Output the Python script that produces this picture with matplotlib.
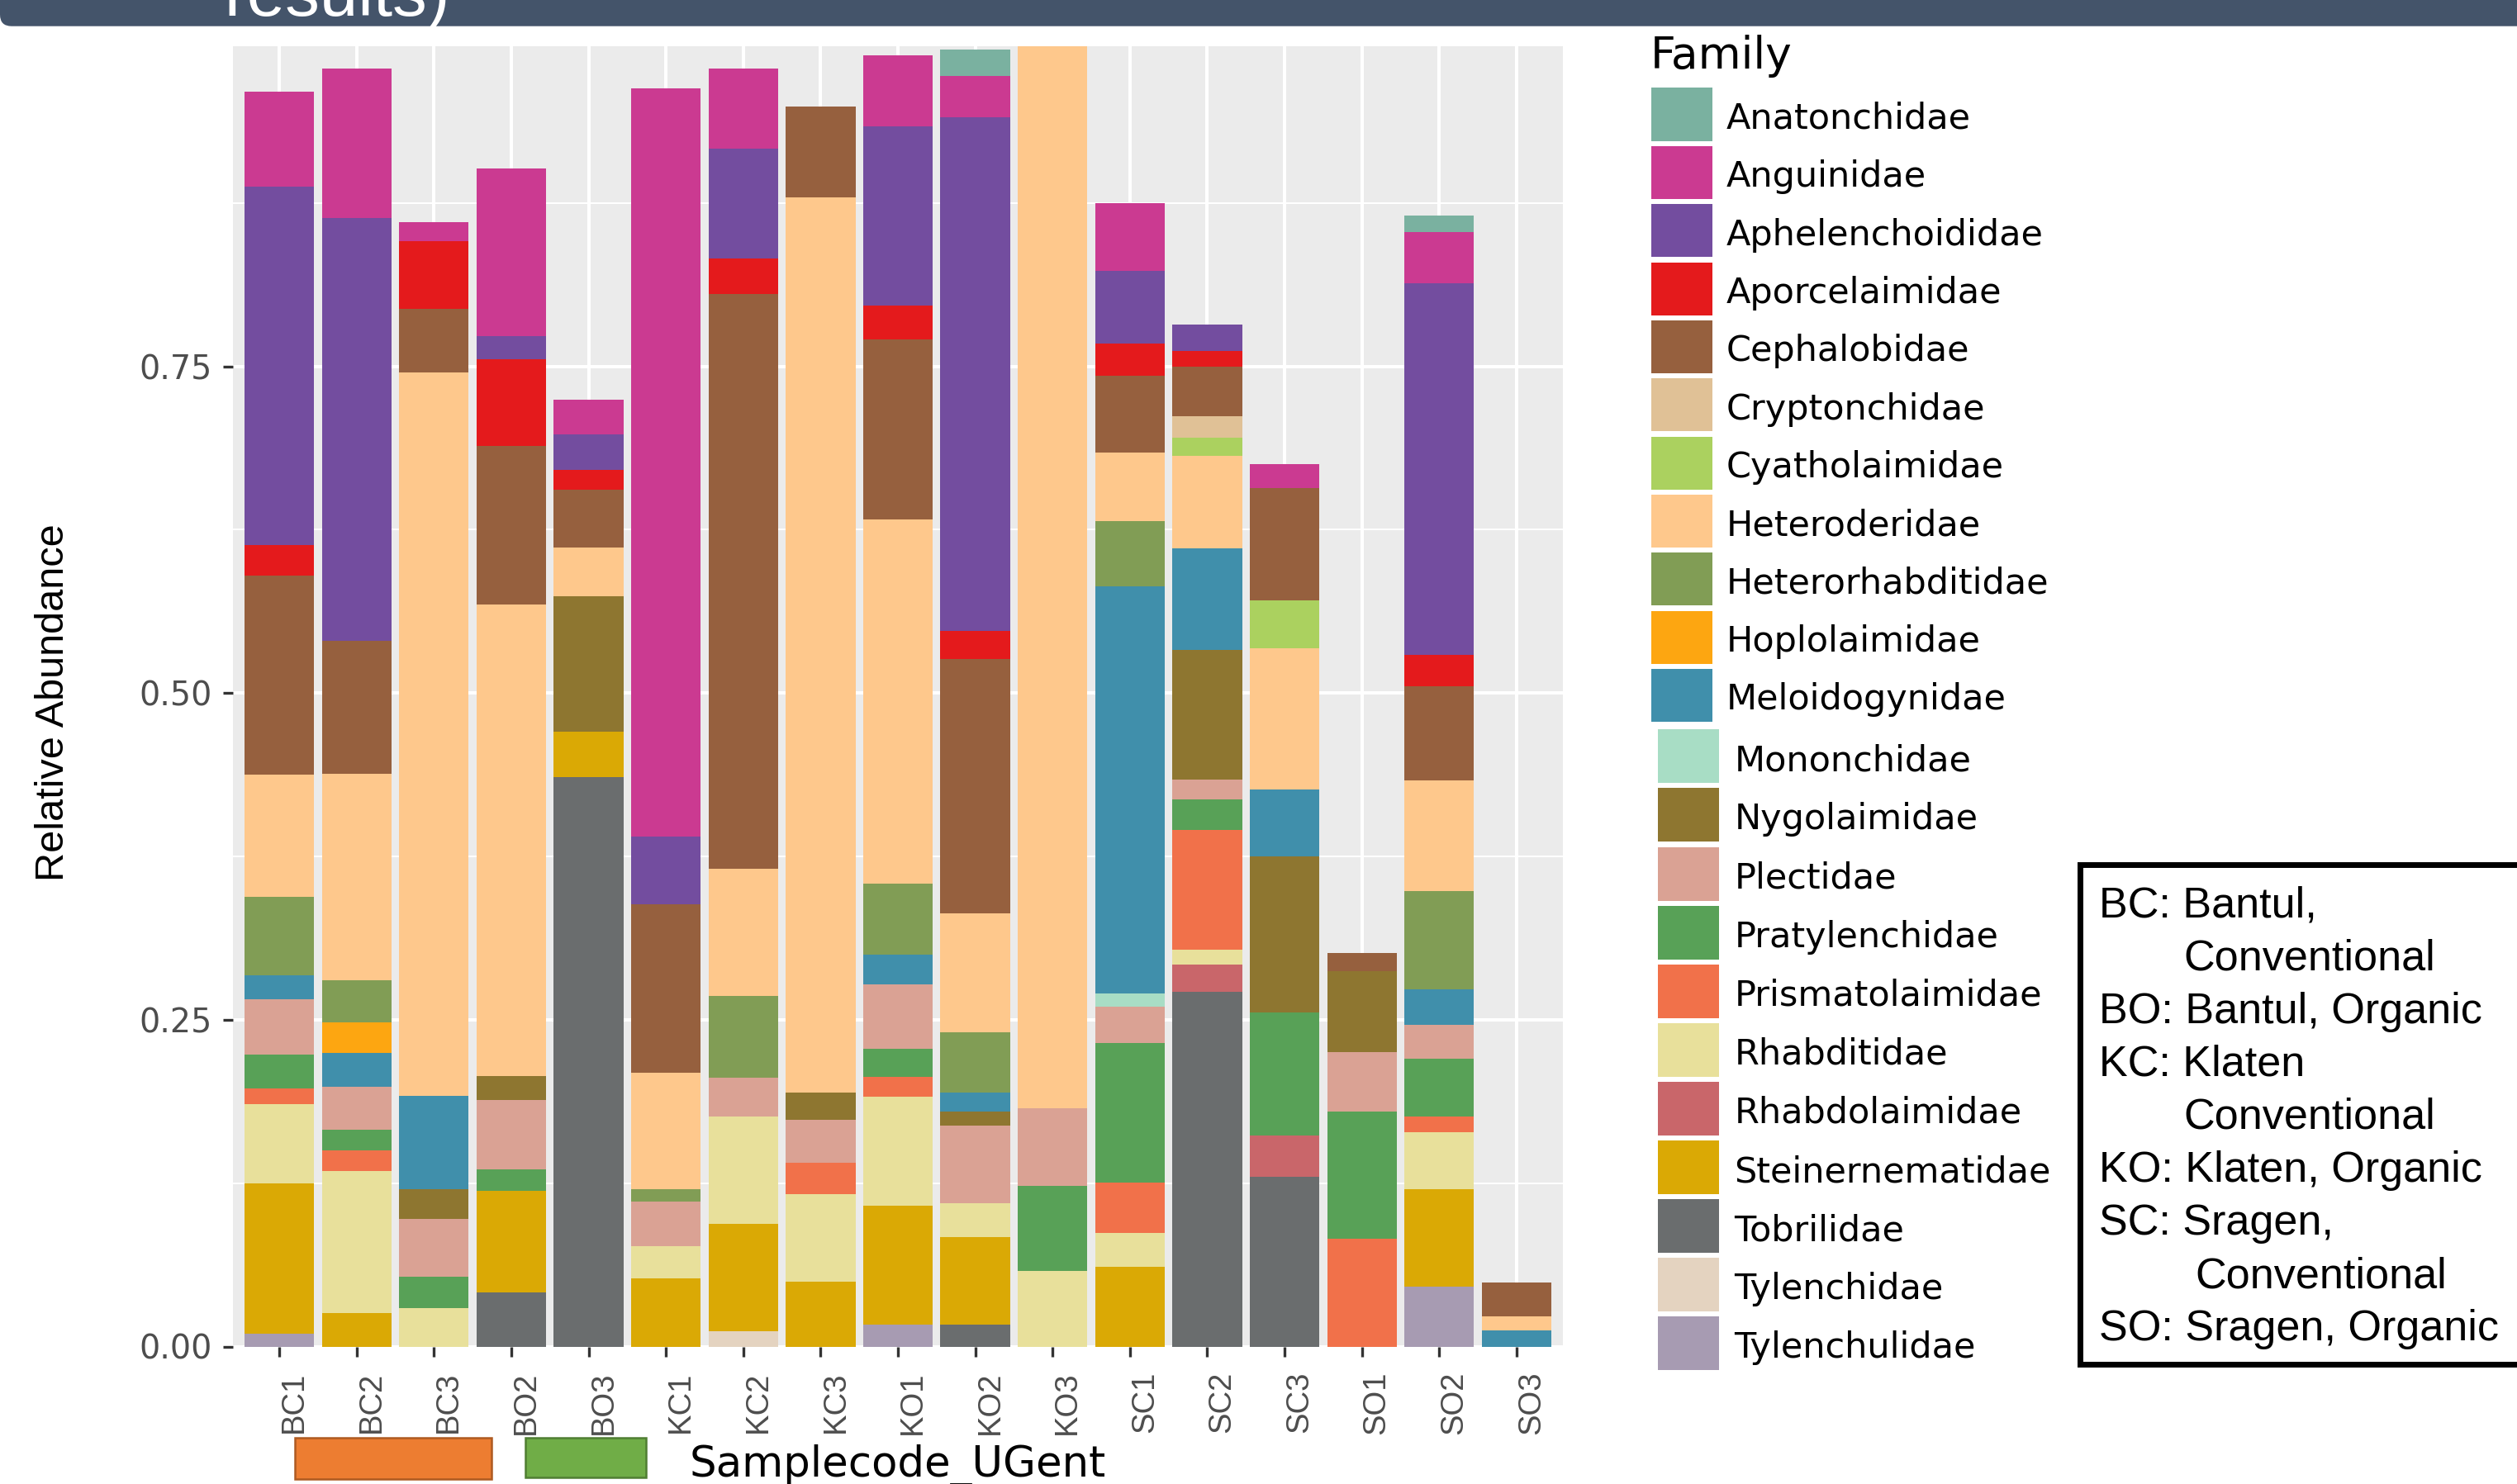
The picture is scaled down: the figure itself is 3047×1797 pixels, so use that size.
import matplotlib
matplotlib.use("Agg")
import matplotlib.pyplot as plt
from matplotlib.patches import Rectangle, FancyBboxPatch
from matplotlib.transforms import IdentityTransform
from matplotlib import font_manager
import numpy as np

W, H, DPI = 3047, 1797, 100

samples = ["BC1", "BC2", "BC3", "BO2", "BO3", "KC1", "KC2", "KC3", "KO1",
           "KO2", "KO3", "SC1", "SC2", "SC3", "SO1", "SO2", "SO3"]

families = ["Anatonchidae", "Anguinidae", "Aphelenchoididae", "Aporcelaimidae",
            "Cephalobidae", "Cryptonchidae", "Cyatholaimidae", "Heteroderidae",
            "Heterorhabditidae", "Hoplolaimidae", "Meloidogynidae", "Mononchidae",
            "Nygolaimidae", "Plectidae", "Pratylenchidae", "Prismatolaimidae",
            "Rhabditidae", "Rhabdolaimidae", "Steinernematidae", "Tobrilidae",
            "Tylenchidae", "Tylenchulidae"]

family_colors = ["#7AB1A0", "#CB3A91", "#734D9F", "#E41A1C", "#96603E", "#E0C196",
                 "#ABD15F", "#FEC88C", "#819D55", "#FDA611", "#408FAB", "#A8DDC5",
                 "#8E7630", "#DAA294", "#58A157", "#F1714A", "#E8E09B", "#C9666A",
                 "#DAA905", "#6A6D6E", "#E4D3C0", "#A79BB2"]

# relative abundance per family, one value per sample (order of `samples`)
anatonchidae      = [0, 0, 0, 0, 0, 0, 0, 0, 0, .0203, 0, 0, 0, 0, 0, .0127, 0]
anguinidae        = [.0725, .1146, .0148, .1284, .0263, .5724, .0613, 0, .0548, .0316, 0, .0518, 0, .0185, 0, .0391, 0]
aphelenchoididae  = [.2739, .3235, 0, .0178, .0277, .0521, .0842, 0, .1371, .3928, 0, .0559, .0199, 0, 0, .2844, 0]
aporcelaimidae    = [.0235, 0, .0516, .0663, .0149, 0, .0268, 0, .0257, .0214, 0, .0246, .0124, 0, 0, .0239, 0]
cephalobidae      = [.1523, .1015, .0485, .1215, .0443, .1290, .4400, .0693, .1375, .1947, 0, .0588, .0380, .0860, .0141, .0721, .0257]
cryptonchidae     = [0, 0, 0, 0, 0, 0, 0, 0, 0, 0, 0, 0, .0164, 0, 0, 0, 0]
cyatholaimidae    = [0, 0, 0, 0, 0, 0, 0, 0, 0, 0, 0, 0, .0138, .0362, 0, 0, 0]
heteroderidae     = [.0936, .1583, .5540, .3604, .0373, .0889, .0972, .6853, .2792, .0911, .8178, .0526, .0707, .1083, 0, .0846, .0109]
heterorhabditidae = [.0600, .0322, 0, 0, 0, .0098, .0626, 0, .0543, .0459, 0, .0497, 0, 0, 0, .0752, 0]
hoplolaimidae     = [0, .0231, 0, 0, 0, 0, 0, 0, 0, 0, 0, 0, 0, 0, 0, 0, 0]
meloidogynidae    = [.0185, .0260, .0713, 0, 0, 0, 0, 0, .0228, .0144, 0, .3116, .0776, .0510, 0, .0274, .0122]
mononchidae       = [0, 0, 0, 0, 0, 0, 0, 0, 0, 0, 0, .0101, 0, 0, 0, 0, 0]
nygolaimidae      = [0, 0, .0224, .0184, .1034, 0, 0, .0206, 0, .0112, 0, 0, .0993, .1197, .0618, 0, 0]
plectidae         = [.0423, .0329, .0448, .0532, 0, .0340, .0296, .0329, .0488, .0593, .0594, .0279, .0151, 0, .0456, .0257, 0]
pratylenchidae    = [.0256, .0159, .0239, .0163, 0, 0, 0, 0, .0216, 0, .0650, .1066, .0235, .0943, .0972, .0441, 0]
prismatolaimidae  = [.0123, .0159, 0, 0, 0, 0, 0, .0242, .0152, 0, 0, .0387, .0915, 0, .0824, .0123, 0]
rhabditidae       = [.0604, .1084, .0292, 0, 0, .0246, .0820, .0669, .0835, .0257, .0578, .0257, .0112, 0, 0, .0433, 0]
rhabdolaimidae    = [0, 0, 0, 0, 0, 0, 0, 0, 0, 0, 0, 0, .0210, .0311, 0, 0, 0]
steinernematidae  = [.1152, .0257, 0, .0777, .0350, .0520, .0824, .0495, .0911, .0672, 0, .0610, 0, 0, 0, .0745, 0]
tobrilidae        = [0, 0, 0, .0415, .4356, 0, 0, 0, 0, .0166, 0, 0, .2714, .1301, 0, 0, 0]
tylenchidae       = [0, 0, 0, 0, 0, 0, .0116, 0, 0, 0, 0, 0, 0, 0, 0, 0, 0]
tylenchulidae     = [.0098, 0, 0, 0, 0, 0, 0, 0, .0166, 0, 0, 0, 0, 0, 0, .0459, 0]

abundance = [anatonchidae, anguinidae, aphelenchoididae, aporcelaimidae, cephalobidae,
             cryptonchidae, cyatholaimidae, heteroderidae, heterorhabditidae, hoplolaimidae,
             meloidogynidae, mononchidae, nygolaimidae, plectidae, pratylenchidae,
             prismatolaimidae, rhabditidae, rhabdolaimidae, steinernematidae, tobrilidae,
             tylenchidae, tylenchulidae]

y_ticks = [0.0, 0.25, 0.50, 0.75]
y_tick_labels = ["0.00", "0.25", "0.50", "0.75"]

site_notes = [("BC: Bantul,", 0), ("Conventional", 1), ("BO: Bantul, Organic", 0),
              ("KC: Klaten", 0), ("Conventional", 1), ("KO: Klaten, Organic", 0),
              ("SC: Sragen,", 0), ("Conventional", 2), ("SO: Sragen, Organic", 0)]

# ---------------------------------------------------------------- fonts
installed = {f.name for f in font_manager.fontManager.ttflist}
HAS_NARROW = "Liberation Sans Narrow" in installed
WIDE = ["DejaVu Sans"]
ARIAL = ["Liberation Sans", "DejaVu Sans"]
NARROW = ["Liberation Sans Narrow", "Liberation Sans"] if HAS_NARROW else ARIAL


def fx(px):
    return px / W


def fy(py):
    return 1 - py / H


fig = plt.figure(figsize=(W / DPI, H / DPI), dpi=DPI)
fig.patch.set_facecolor("white")

# ---------------------------------------------------------------- plot panel
p_left, p_right, p_top, p_bottom = 282, 1892, 56.3, 1630.5
ax = fig.add_axes([fx(p_left), fy(p_bottom), (p_right - p_left) / W, (p_bottom - p_top) / H])
ax.set_facecolor("#EBEBEB")

x = np.arange(len(samples))
base = np.zeros(len(samples))
for name, col, vals in reversed(list(zip(families, family_colors, abundance))):
    v = np.asarray(vals, dtype=float)
    ax.bar(x, v, bottom=base, width=0.9, color=col, linewidth=0, zorder=3)
    base += v

ax.set_xlim(-0.6, len(samples) - 0.4)
ax.set_ylim(0, 0.9947)
ax.set_yticks(y_ticks)
ax.set_yticks([0.125, 0.375, 0.625, 0.875], minor=True)
ax.set_yticklabels(y_tick_labels, family=WIDE, fontsize=28.5, color="#4D4D4D")
ax.set_xticks(x)
ax.set_xticklabels(samples, rotation=90, ha="left", va="top", color="#4D4D4D",
                   family=NARROW, fontsize=31 if HAS_NARROW else 27.5)
ax.set_axisbelow(True)
ax.grid(which="major", color="white", linewidth=2.9)
ax.grid(which="minor", axis="y", color="white", linewidth=1.45)
for s in ax.spines.values():
    s.set_visible(False)
ax.tick_params(axis="both", which="major", length=8.6, width=2.4, color="#333333")
ax.tick_params(axis="y", which="major", pad=9.5)
ax.tick_params(axis="x", which="major", pad=13)
ax.tick_params(which="minor", length=0)

fig.text(fx(65), fy(851), "Relative Abundance", rotation=90, ha="center", va="center",
         family=NARROW, fontsize=41 if HAS_NARROW else 35, color="black")
fig.text(fx(1087), fy(1788), "Samplecode_UGent", ha="center", va="baseline",
         family=WIDE, fontsize=37, color="black")

# ---------------------------------------------------------------- legend
fig.text(fx(1998), fy(83), "Family", ha="left", va="baseline", family=WIDE,
         fontsize=38.5, color="black")
for i, (name, col) in enumerate(zip(families, family_colors)):
    if i <= 10:
        top, kx0, kx1, kh, tx = 106.5 + i * 70.35, 1998.6, 2072.5, 64, 2089.7
    else:
        top, kx0, kx1, kh, tx = 883.3 + (i - 11) * 71.1, 2006.5, 2080.5, 65, 2099.5
    fig.patches.append(Rectangle((fx(kx0), fy(top + kh)), (kx1 - kx0) / W, kh / H,
                                 transform=fig.transFigure, facecolor=col,
                                 edgecolor="none"))
    fig.text(fx(tx), fy(top + kh / 2 + 17.5), name, ha="left", va="baseline",
             family=WIDE, fontsize=31, color="black")

# ---------------------------------------------------------------- site key box
fig.patches.append(Rectangle((fx(2518), fy(1652)), (3100 - 2518) / W, (1652 - 1047) / H,
                             transform=fig.transFigure, facecolor="white",
                             edgecolor="black", linewidth=5))
indent = {0: 2541, 1: 2643, 2: 2657}
for k, (line, ind) in enumerate(site_notes):
    fig.text(fx(indent[ind]), fy(1110.5 + k * 64.1), line, ha="left", va="baseline",
             family=ARIAL, fontsize=37.5, color="black")

# ---------------------------------------------------------------- sample group swatches
fig.patches.append(Rectangle((fx(357), fy(1791)), (594.6 - 357) / W, 50 / H,
                             transform=fig.transFigure, facecolor="#ED7D31",
                             edgecolor="#AE5A21", linewidth=1.8))
fig.patches.append(Rectangle((fx(636), fy(1789)), (782 - 636) / W, 48 / H,
                             transform=fig.transFigure, facecolor="#70AD47",
                             edgecolor="#507E32", linewidth=1.8))

# ---------------------------------------------------------------- slide header strip
fig.patches.append(FancyBboxPatch((0, H - 31.7), 3200, 120,
                                  boxstyle="round,pad=0,rounding_size=14",
                                  transform=IdentityTransform(), facecolor="#44546A",
                                  edgecolor="none"))
fig.text(fx(271), fy(19), "results)", ha="left", va="baseline", family=ARIAL,
         fontsize=60, color="white")

fig.savefig("out.png", dpi=DPI)
